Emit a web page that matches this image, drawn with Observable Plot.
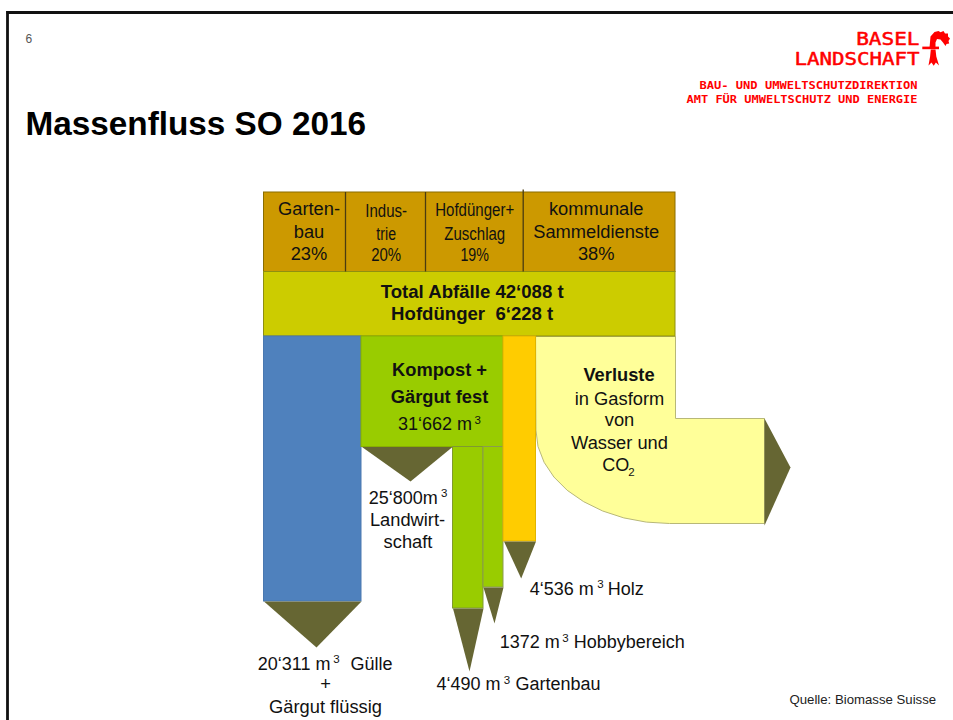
<!DOCTYPE html>
<html><head><meta charset="utf-8">
<script src="https://cdn.jsdelivr.net/npm/d3@7"></script>
<script src="https://cdn.jsdelivr.net/npm/@observablehq/plot@0.6"></script>
<style>html,body{margin:0;padding:0;background:#fff;overflow:hidden}svg{display:block}</style>
</head><body><div id="chart"></div>
<script>
// --- chart content, in drawing units of the schematic ---
const blocks = [
  ["Quellen", 263.5, 675, 192, 271.5],
  ["Total", 263.5, 675, 271.5, 336],
  ["Gülle", 263.5, 361, 336, 601],
  ["Kompost", 361, 503, 336, 446.5],
  ["Gartenbau", 452.5, 483, 446.5, 608],
  ["Hobby", 483, 503, 446.5, 587],
  ["Holz", 503, 535.5, 336, 541]
];
const blockColors = ["#CC9900", "#CCCC00", "#4F81BD", "#99CC00", "#99CC00", "#99CC00", "#FFCC00"];
const blockEdges = ["#8A6D00", "#8F8F10", "#4A78B0", "#88B000", "#7F9A30", "#8A9C50", "#E0B400"];
const dividers = [[345, 192], [425, 192], [522.7, 189.5]];
const verluste = [[535.5,336],[675,336],[675,418],[764,418],[764,523],[669,523],[645.8,521.6],[623.3,517.4],[602.2,510.5],[583.2,501.2],[566.7,489.8],[553.4,476.5],[543.6,461.8],[537.5,446],[535.5,430]];
const arrowGuelle = [[263.5,601],[361,601],[316,647]];
const arrowLandwirtschaft = [[361.5,446.5],[452,446.5],[410,481]];
const arrowGarten = [[452.5,608],[483,608],[469,671]];
const arrowHobby = [[483,587],[503,587],[494,623]];
const arrowHolz = [[503.5,541],[535.5,541],[520.7,578]];
const arrowVerluste = [[764,418],[790,467],[764,525]];
const crestCrook = [[929,47.3],[930,36],[934,31.5],[938,30.5],[940,31.8],[943,30.5],[944.5,33],[947.5,33],[947.5,36],[949.5,38],[948,40.5],[948.7,43],[946,43.5],[945,45.5],[942.5,42],[940,39],[936.5,38.5],[935,42],[935,47.3]];
const crestStaff = [[930.3,49],[935,49],[935.8,56],[938.5,65],[935.4,62],[933.2,65.2],[931,62],[928,65],[929.6,56]];
const crestBar = [[922.3, 939, 46.6, 49.2]];
const frameTop = [[6.5, 953, 12]];
const frameLeft = [[7, 11, 720]];

const regularMiddle = [
  ["Garten-",308.5,215],["bau",308.5,238],["23%",308.5,260],
  ["Indus-",385.7,217],["trie",385.7,240],["20%",385.7,261.7],
  ["Hofdünger+",474.2,216.7],["Zuschlag",474.2,240],["19%",474.2,261.7],
  ["kommunale",595.7,215],["Sammeldienste",595.7,238],["38%",595.7,260],
  ["in Gasform",619,405],["von",619,426.7],["Wasser und",619,449],
  ["Landwirt-",407,526.7],["schaft",407.5,548],
  ["+",325,690.7],["Gärgut flüssig",325,713]
];
const boldTotals = [["Total Abfälle 42‘088 t",471.7,298.3],["Hofdünger\u00a0\u00a06‘228 t",471.7,320]];
const boldMiddle = [["Kompost +",439,376.7],["Gärgut fest",439,403],["Verluste",618.5,381.7]];
const regularStart = [
  ["31‘662 m",397.5,430.7],["CO",601.7,471.7],["25‘800m",368.3,504],
  ["20‘311 m",257.3,670],["Gülle",350,670],
  ["4‘536 m",529.3,595],["Holz",607.3,595],
  ["1372 m",499.3,648.3],["Hobbybereich",573.3,648.3],
  ["4‘490 m",436,690.7],["Gartenbau",515,690.7]
];
const smallScripts = [
  ["3",474,424],["2",627.7,476.7],["3",440.5,497.5],["3",332.7,663.5],
  ["3",596.7,588.5],["3",561.7,641.8],["3",503.3,684.2]
];
const fittedLabels = [["Indus-",41.7],["trie",19.7],["20%",30],["Hofdünger+",79],["Zuschlag",61],["19%",28.5],
  ["BASEL",63.3],["LANDSCHAFT",125],["BAU- UND UMWELTSCHUTZDIREKTION",218],["AMT FÜR UMWELTSCHUTZ UND ENERGIE",231]];

const red = "#FF0000";
const olive = "#666633";
const sans = "Liberation Sans";
const poly = (pts, fill, stroke, strokeWidth) => Plot.line(pts, {
  x: d => d[0], y: d => d[1], curve: "linear-closed", fill, stroke: stroke || "none",
  strokeWidth: strokeWidth || 0, strokeLinejoin: "miter"
});
const label = (rows, o) => Plot.text(rows, {
  text: d => d[0], x: d => d[1], y: d => d[2], lineAnchor: "bottom", dy: -0.8,
  fontFamily: sans, fontSize: 18.3, fill: "#111", ...o
});

const svg = Plot.plot({
  width: 953, height: 720, margin: 0,
  x: {axis: null, domain: [0, 953], range: [0, 953]},
  y: {axis: null, domain: [0, 720], range: [0, 720]},
  style: {background: "#fff", fontFamily: sans},
  marks: [
    Plot.ruleY(frameTop, {y: d => d[2], x1: d => d[0], x2: d => d[1], stroke: "#111", strokeWidth: 2.8}),
    Plot.ruleX(frameLeft, {x: d => d[0], y1: d => d[1], y2: d => d[2], stroke: "#111", strokeWidth: 2.8}),
    poly(verluste, "#FFFF99", "#B8B878", 1),
    ...blocks.map((b, i) => Plot.rect([b], {
      x1: d => d[1], x2: d => d[2], y1: d => d[3], y2: d => d[4],
      fill: blockColors[i], stroke: blockEdges[i], strokeWidth: 1
    })),
    Plot.ruleX(dividers, {x: d => d[0], y1: d => d[1], y2: 271.5, stroke: "#4A3C10", strokeWidth: 1.3}),
    poly(arrowGuelle, olive), poly(arrowLandwirtschaft, olive), poly(arrowGarten, olive),
    poly(arrowHobby, olive), poly(arrowHolz, olive), poly(arrowVerluste, olive),
    label(regularMiddle, {textAnchor: "middle"}),
    label(boldTotals, {textAnchor: "middle", fontWeight: "bold", fontSize: 18.6}),
    label(boldMiddle, {textAnchor: "middle", fontWeight: "bold"}),
    label(regularStart, {textAnchor: "start", fontSize: 18}),
    label(smallScripts, {textAnchor: "start", fontSize: 11.5}),
    label([["Massenfluss SO 2016",25,135]], {textAnchor: "start", fontSize: 33.3, fontWeight: "bold", fill: "#000"}),
    label([["6",25,43.5]], {textAnchor: "start", fontSize: 12, fill: "#555"}),
    label([["Quelle: Biomasse Suisse",789,704]], {textAnchor: "start", fontSize: 13.2, fill: "#222"}),
    label([["BASEL",919,45.5],["LANDSCHAFT",919,65.5]], {textAnchor: "end", fontFamily: "DejaVu Sans Mono", fontSize: 18, fill: red, stroke: red, strokeWidth: 0.5}),
    label([["BAU- UND UMWELTSCHUTZDIREKTION",917,88.8],["AMT FÜR UMWELTSCHUTZ UND ENERGIE",917,103.5]], {textAnchor: "end", fontFamily: "DejaVu Sans Mono", fontSize: 11, fontWeight: "bold", fill: red}),
    poly(crestCrook, red), poly(crestStaff, red),
    Plot.rect(crestBar, {x1: d => d[0], x2: d => d[1], y1: d => d[2], y2: d => d[3], fill: red})
  ]
});
const fit = new Map(fittedLabels);
d3.select(svg).selectAll("text").each(function() {
  const len = fit.get(this.textContent);
  if (len) d3.select(this).attr("textLength", len).attr("lengthAdjust", "spacingAndGlyphs");
});
document.getElementById("chart").append(svg);
</script></body></html>
